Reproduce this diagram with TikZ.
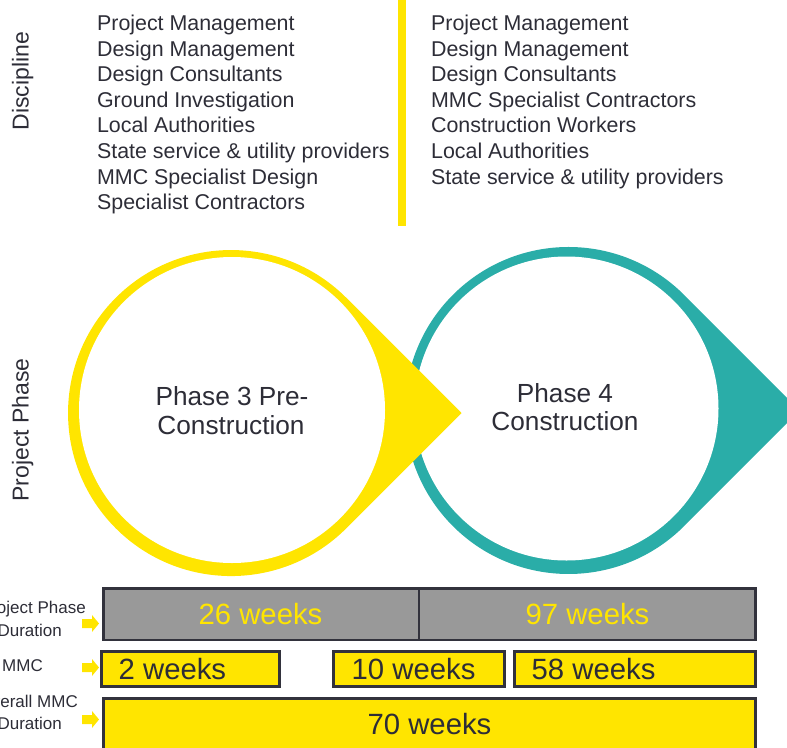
\documentclass[tikz,border=0pt]{standalone}
\usepackage{fontspec}
\setmainfont{Liberation Sans}
\definecolor{mmcyellow}{RGB}{255,229,0}
\definecolor{phaseteal}{RGB}{42,173,168}
\definecolor{bargray}{RGB}{153,153,153}
\definecolor{edge}{RGB}{50,50,60}
\definecolor{ink}{RGB}{45,45,55}
\begin{document}
\begin{tikzpicture}[x=1pt,y=-1pt,
  txt/.style={text=ink, inner sep=0pt},
  listtext/.style={txt, anchor=base west, font=\fontsize{21.4}{25}\selectfont},
  axistext/.style={txt, anchor=base, rotate=90, font=\fontsize{23}{27}\selectfont},
  phasetext/.style={txt, anchor=base, font=\fontsize{26.2}{29}\selectfont},
  sidetext/.style={txt, anchor=base east, font=\fontsize{17}{20}\selectfont},
  weektext/.style={txt, font=\fontsize{29.3}{33}\selectfont},
  bar/.style={draw=edge, line width=2.5pt, inner sep=0pt, minimum height=#1},
  blockarrow/.pic={\fill[mmcyellow] (-8.5,-4.5) -- (1.5,-4.5) -- (1.5,-8.5) -- (8.5,0)
                    -- (1.5,8.5) -- (1.5,4.5) -- (-8.5,4.5) -- cycle;}]
\useasboundingbox (0,0) rectangle (787,747);
\clip (0,0) rectangle (787,747);

% ---- axis labels ----
\node[axistext] (discipline) at (28.5,81) {Discipline};
\node[axistext] (projphase) at (28.5,430) {Project Phase};

% ---- discipline lists ----
\foreach \t [count=\i] in {Project Management, Design Management, Design Consultants,
    Ground Investigation, Local Authorities, State service \& utility providers,
    MMC Specialist Design, Specialist Contractors}
  \node[listtext] (preitem\i) at (96.9,{30.5+25.6*(\i-1)}) {\t};
\foreach \t [count=\i] in {Project Management, Design Management, Design Consultants,
    MMC Specialist Contractors, Construction Workers, Local Authorities,
    State service \& utility providers}
  \node[listtext] (conitem\i) at (430.9,{30.5+25.6*(\i-1)}) {\t};
\fill[mmcyellow] (398,0) rectangle (406,226);

% ---- phase 4 teardrop (teal) ----
\fill[phaseteal] (684.1,294.9) -- (799.7,410.5) -- (684.1,526.1)
  arc[start angle=45, end angle=315, radius=163.5] -- cycle;
\fill[white] (566.5,408.5) circle[radius=152];

% ---- phase 3 teardrop (yellow) ----
\fill[mmcyellow] (346.3,297.7) -- (461.5,413) -- (346.3,528.3)
  arc[start angle=45, end angle=315, radius=163] -- cycle;
\fill[white] (232,410) circle[radius=153];

\node[phasetext] (p3a) at (232,405) {Phase 3 Pre-};
\node[phasetext] (p3b) at (231,434) {Construction};
\node[phasetext] (p4a) at (565,402) {Phase 4};
\node[phasetext] (p4b) at (565,430.7) {Construction};

% ---- row labels and pointers ----
\node[sidetext] (lblphase) at (86,613.5) {Project Phase};
\node[sidetext] (lbldur) at (62,636) {Duration};
\node[sidetext] (lblmmc) at (43,671) {MMC};
\node[sidetext] (lblall) at (78,707) {Overall MMC};
\node[sidetext] (lbldur2) at (62,729) {Duration};
\pic at (90.5,623.5) {blockarrow};
\pic at (90.5,667.5) {blockarrow};
\pic at (90.5,719.5) {blockarrow};

% ---- row 1: phase durations ----
\node[bar=51.5pt, fill=bargray, minimum width=315.5pt] (dur3) at (261.25,614.25) {};
\node[bar=51.5pt, fill=bargray, minimum width=336.5pt] (dur4) at (587.25,614.25) {};
\node[weektext, text=mmcyellow, anchor=base] (w26) at (260.5,624.3) {26 weeks};
\node[weektext, text=mmcyellow, anchor=base] (w97) at (587.5,624.3) {97 weeks};

% ---- row 2: MMC activities ----
\node[bar=35pt, fill=mmcyellow, minimum width=178pt] (m1) at (190.5,669) {};
\node[bar=35pt, fill=mmcyellow, minimum width=171pt] (m2) at (419,669) {};
\node[bar=35pt, fill=mmcyellow, minimum width=241pt] (m3) at (635,669) {};
\node[weektext, anchor=base west] (w2) at (118.5,679.3) {2 weeks};
\node[weektext, anchor=base west] (w10) at (351.5,679.3) {10 weeks};
\node[weektext, anchor=base west] (w58) at (531.5,679.3) {58 weeks};

% ---- row 3: overall MMC duration ----
\node[bar=53.5pt, fill=mmcyellow, minimum width=652pt] (overall) at (429.5,725.25) {};
\node[weektext, anchor=base] (w70) at (429.5,734) {70 weeks};
\end{tikzpicture}
\end{document}
